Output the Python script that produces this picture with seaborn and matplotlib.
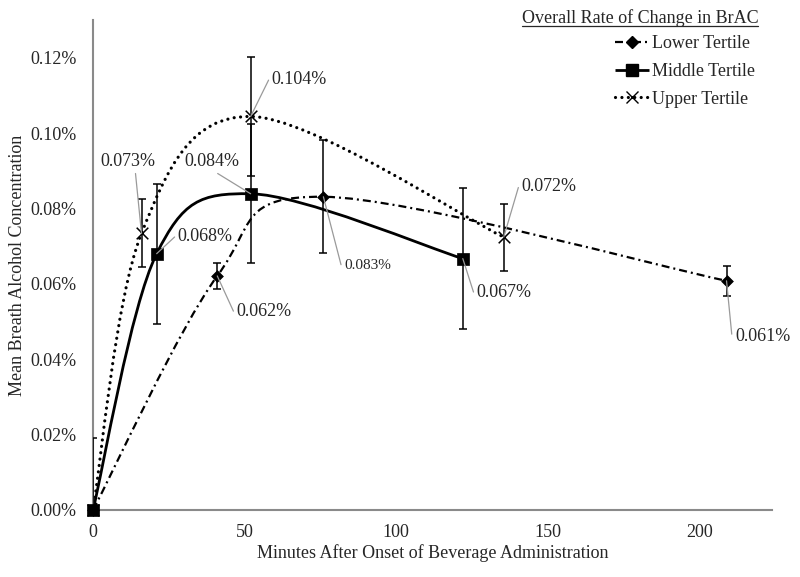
import numpy as np
import pandas as pd
import seaborn as sns
import matplotlib.pyplot as plt
from matplotlib.path import Path
from matplotlib.patches import PathPatch
from matplotlib.lines import Line2D

# data (BrAC in %)
lower_x = [0, 41, 76, 209]
lower_y = [0, 0.0621, 0.0831, 0.0608]
lower_err = [0, 0.0035, 0.015, 0.0039]

middle_x = [0, 21, 52, 122]
middle_y = [0, 0.068, 0.0839, 0.0667]
middle_err = [0.019, 0.0186, 0.0184, 0.0188]

upper_x = [0, 16, 52, 135.5]
upper_y = [0, 0.0734, 0.1044, 0.0724]
upper_err = [0, 0.009, 0.0157, 0.0089]

series_names = ['Lower Tertile', 'Middle Tertile', 'Upper Tertile']

sns.set_style('white')
plt.rcParams['font.family'] = ['Liberation Serif', 'DejaVu Serif']
txt = '#262626'
axcol = '#8a8a8a'


def smooth_path(xs, ys):
    # excel-like smoothed line: cubic bezier through the points
    pts = np.column_stack([xs, ys]).astype(float)
    n = len(pts)
    verts = [pts[0]]
    codes = [Path.MOVETO]
    for i in range(n - 1):
        p0 = pts[i - 1] if i > 0 else pts[i]
        p1 = pts[i]
        p2 = pts[i + 1]
        p3 = pts[i + 2] if i + 2 < n else pts[i + 1]
        verts += [p1 + (p2 - p0) / 6, p2 - (p3 - p1) / 6, p2]
        codes += [Path.CURVE4] * 3
    return Path(verts, codes)


fig = plt.figure(figsize=(8, 5.77), dpi=100)
ax = fig.add_axes([93 / 800, 1 - 510 / 577, (772 - 93) / 800, (510 - 20) / 577])

styles = {
    'Lower Tertile': dict(ls=(0, (3.6, 1.8, 0.9, 1.8)), lw=1.6, cap='butt', marker='D', s=36),
    'Middle Tertile': dict(ls='-', lw=2.0, cap='butt', marker='s', s=85),
    'Upper Tertile': dict(ls=(0, (0.01, 2.0)), lw=2.3, cap='round', marker='x', s=70),
}
all_x = [lower_x, middle_x, upper_x]
all_y = [lower_y, middle_y, upper_y]
all_err = [lower_err, middle_err, upper_err]

for name, xs, ys, es in zip(series_names, all_x, all_y, all_err):
    st = styles[name]
    patch = PathPatch(smooth_path(xs, ys), fill=False, ec='black', lw=st['lw'],
                      ls=st['ls'], capstyle=st['cap'], zorder=2)
    ax.add_patch(patch)
    ax.errorbar(xs, ys, yerr=es, fmt='none', ecolor='black', elinewidth=1.1,
                capsize=3, capthick=1.1, zorder=3)
    df = pd.DataFrame({'x': xs, 'y': ys})
    if st['marker'] == 'x':
        sns.scatterplot(data=df, x='x', y='y', marker='x', s=st['s'], color='black',
                        linewidth=1.1, ax=ax, zorder=4, legend=False, clip_on=False)
    else:
        sns.scatterplot(data=df, x='x', y='y', marker=st['marker'], s=st['s'], color='black',
                        edgecolor='black', linewidth=0.5, ax=ax, zorder=4, legend=False,
                        clip_on=False)

# value labels with leader lines: (series, point index, text x, text y, relpos, size)
labels = [
    (2, 1, 2.3, 0.0924, (0.64, 0.0), 13),
    (1, 2, 30.3, 0.0924, (0.5, 0.0), 13),
    (2, 2, 59.0, 0.1142, (0.0, 0.5), 13),
    (1, 1, 28.0, 0.0725, (0.0, 0.5), 13),
    (0, 1, 47.4, 0.0526, (0.0, 0.5), 13),
    (0, 2, 82.9, 0.0648, (0.0, 0.5), 11),
    (1, 3, 126.6, 0.0576, (0.0, 0.5), 13),
    (2, 3, 141.4, 0.0858, (0.0, 0.5), 13),
    (0, 3, 211.8, 0.0459, (0.0, 0.5), 13),
]
for si, pi, tx, ty, rp, fs in labels:
    px, py = all_x[si][pi], all_y[si][pi]
    if rp == (0.0, 0.5):
        conn = 'arc,angleA=180,angleB=0,armA=3,armB=0,rad=0'
    else:
        conn = 'arc3,rad=0'
    ax.annotate(f'{py:.3f}%', xy=(px, py), xytext=(tx, ty), ha='left', va='center',
                fontsize=fs, color=txt, zorder=5,
                arrowprops=dict(arrowstyle='-', color='#9a9a9a', lw=0.9, relpos=rp,
                                shrinkA=0, shrinkB=0, connectionstyle=conn))

ax.set_xlim(0, 224)
ax.set_ylim(0, 0.13)
ax.set_xticks([0, 50, 100, 150, 200])
ax.set_yticks(np.arange(0, 0.121, 0.02))
ax.set_yticklabels([f'{v:.2f}%' for v in np.arange(0, 0.121, 0.02)])
ax.tick_params(axis='both', labelsize=13, colors=txt, length=4, width=1.2, direction='out')
ax.tick_params(axis='x', pad=6, color=axcol)
ax.tick_params(axis='y', pad=8, color=axcol)
for sp in ['top', 'right']:
    ax.spines[sp].set_visible(False)
for sp in ['left', 'bottom']:
    ax.spines[sp].set_color(axcol)
    ax.spines[sp].set_linewidth(1.5)
ax.set_xlabel('Minutes After Onset of Beverage Administration', fontsize=13, color=txt, labelpad=2)
ax.set_ylabel('Mean Breath Alcohol Concentration', fontsize=13, color=txt, labelpad=3)

# legend
handles = []
for name in series_names:
    st = styles[name]
    ms = 6 if st['marker'] == 'D' else 8
    handles.append(Line2D([0], [0], color='black', lw=st['lw'], ls=st['ls'],
                          solid_capstyle='butt', dash_capstyle=st['cap'],
                          marker=st['marker'], markersize=ms, mec='black', mfc='black', mew=1))
fig.legend(handles, series_names, loc='upper left', bbox_to_anchor=(615 / 800, 1 - 35 / 577),
           frameon=False, fontsize=13, handlelength=1.9, handletextpad=0.15,
           labelspacing=0.6, borderpad=0, borderaxespad=0, labelcolor=txt)

title = fig.text(640 / 800, 1 - 18 / 577, 'Overall Rate of Change in BrAC', ha='center',
                 va='center', fontsize=13, color=txt)
fig.canvas.draw()
bb = title.get_window_extent().transformed(fig.transFigure.inverted())
fig.add_artist(Line2D([bb.x0, bb.x1], [bb.y0 + 0.002, bb.y0 + 0.002],
                      transform=fig.transFigure, color=txt, lw=0.9))

fig.savefig('out.png', dpi=100)
